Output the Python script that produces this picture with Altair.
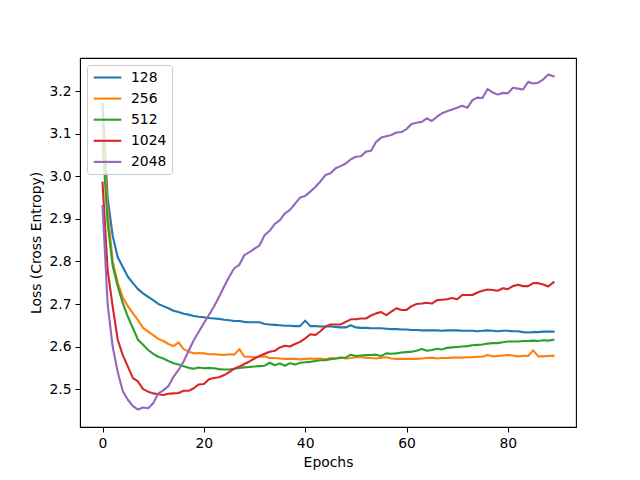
import altair as alt
import pandas as pd

epochs = list(range(90))

loss_128 = [3.17, 2.95, 2.86, 2.81, 2.787, 2.764, 2.749, 2.735, 2.725, 2.717,
            2.709, 2.70, 2.695, 2.69, 2.684, 2.681, 2.677, 2.675, 2.672, 2.670,
            2.669, 2.667, 2.666, 2.665, 2.663, 2.662, 2.660, 2.660, 2.658, 2.657,
            2.657, 2.657, 2.653, 2.652, 2.651, 2.650, 2.649, 2.649, 2.648, 2.648,
            2.661, 2.648, 2.648, 2.647, 2.647, 2.647, 2.646, 2.645, 2.645, 2.650,
            2.645, 2.644, 2.644, 2.643, 2.643, 2.643, 2.642, 2.641, 2.641, 2.640,
            2.640, 2.639, 2.639, 2.638, 2.638, 2.638, 2.638, 2.637, 2.638, 2.638,
            2.638, 2.637, 2.637, 2.637, 2.636, 2.637, 2.638, 2.637, 2.636, 2.637,
            2.637, 2.636, 2.636, 2.634, 2.633, 2.634, 2.634, 2.635, 2.635, 2.635]

loss_256 = [3.12, 2.92, 2.80, 2.75, 2.715, 2.695, 2.678, 2.662, 2.644, 2.635,
            2.627, 2.618, 2.613, 2.606, 2.601, 2.610, 2.594, 2.588, 2.584, 2.585,
            2.584, 2.582, 2.582, 2.581, 2.580, 2.582, 2.581, 2.594, 2.576, 2.576,
            2.575, 2.576, 2.577, 2.573, 2.573, 2.572, 2.571, 2.571, 2.571, 2.570,
            2.571, 2.572, 2.571, 2.572, 2.570, 2.573, 2.572, 2.575, 2.572, 2.573,
            2.575, 2.575, 2.574, 2.573, 2.572, 2.574, 2.575, 2.572, 2.571, 2.571,
            2.571, 2.571, 2.571, 2.572, 2.573, 2.574, 2.572, 2.573, 2.573, 2.574,
            2.574, 2.574, 2.575, 2.575, 2.576, 2.576, 2.580, 2.577, 2.578, 2.579,
            2.580, 2.579, 2.577, 2.578, 2.578, 2.591, 2.577, 2.577, 2.578, 2.578]

loss_512 = [3.08, 2.89, 2.79, 2.741, 2.702, 2.670, 2.643, 2.616, 2.604, 2.592,
            2.583, 2.576, 2.572, 2.566, 2.561, 2.558, 2.554, 2.550, 2.548, 2.551,
            2.549, 2.550, 2.549, 2.547, 2.546, 2.546, 2.548, 2.550, 2.551, 2.552,
            2.553, 2.554, 2.555, 2.562, 2.556, 2.560, 2.555, 2.561, 2.558, 2.562,
            2.563, 2.564, 2.566, 2.568, 2.568, 2.570, 2.572, 2.573, 2.574, 2.581,
            2.578, 2.579, 2.580, 2.580, 2.581, 2.578, 2.584, 2.583, 2.584, 2.586,
            2.587, 2.588, 2.590, 2.594, 2.590, 2.592, 2.595, 2.593, 2.597, 2.598,
            2.599, 2.600, 2.601, 2.603, 2.604, 2.605, 2.607, 2.608, 2.608, 2.610,
            2.612, 2.612, 2.612, 2.613, 2.613, 2.614, 2.613, 2.615, 2.614, 2.616]

loss_1024 = [2.985, 2.78, 2.694, 2.616, 2.580, 2.553, 2.526, 2.518, 2.500, 2.494,
             2.490, 2.488, 2.486, 2.489, 2.490, 2.491, 2.496, 2.496, 2.502, 2.511,
             2.512, 2.523, 2.526, 2.528, 2.533, 2.540, 2.548, 2.553, 2.559, 2.565,
             2.572, 2.578, 2.583, 2.588, 2.590, 2.598, 2.602, 2.600, 2.606, 2.611,
             2.619, 2.629, 2.627, 2.636, 2.647, 2.652, 2.652, 2.652, 2.658, 2.664,
             2.664, 2.666, 2.666, 2.673, 2.678, 2.681, 2.674, 2.682, 2.690, 2.686,
             2.686, 2.695, 2.700, 2.701, 2.703, 2.701, 2.709, 2.710, 2.711, 2.714,
             2.711, 2.721, 2.721, 2.721, 2.727, 2.731, 2.734, 2.733, 2.731, 2.737,
             2.735, 2.742, 2.745, 2.742, 2.742, 2.749, 2.749, 2.746, 2.741, 2.751]

loss_2048 = [2.93, 2.70, 2.60, 2.54, 2.495, 2.475, 2.460, 2.452, 2.457, 2.455,
             2.467, 2.490, 2.497, 2.507, 2.529, 2.545, 2.565, 2.590, 2.615, 2.635,
             2.655, 2.674, 2.694, 2.717, 2.741, 2.764, 2.784, 2.792, 2.815, 2.822,
             2.830, 2.838, 2.862, 2.872, 2.888, 2.897, 2.913, 2.921, 2.936, 2.950,
             2.954, 2.964, 2.975, 2.988, 3.003, 3.007, 3.019, 3.024, 3.030, 3.040,
             3.046, 3.047, 3.058, 3.060, 3.081, 3.091, 3.094, 3.097, 3.103, 3.104,
             3.111, 3.123, 3.126, 3.128, 3.136, 3.130, 3.140, 3.148, 3.153, 3.157,
             3.161, 3.166, 3.161, 3.179, 3.185, 3.184, 3.205, 3.197, 3.192, 3.196,
             3.195, 3.208, 3.206, 3.204, 3.222, 3.218, 3.220, 3.228, 3.239, 3.235]

series_names = ["128", "256", "512", "1024", "2048"]
series_values = [loss_128, loss_256, loss_512, loss_1024, loss_2048]
colors = ["#1f77b4", "#ff7f0e", "#2ca02c", "#d62728", "#9467bd"]

x_ticks = [0, 20, 40, 60, 80]
y_ticks = [2.5, 2.6, 2.7, 2.8, 2.9, 3.0, 3.1, 3.2]

rows = []
for order, (name, vals) in enumerate(zip(series_names, series_values)):
    for e, v in zip(epochs, vals):
        rows.append({"epoch": e, "loss": v, "batch": name, "order": order})
df = pd.DataFrame(rows)

FONT = "DejaVu Sans"

chart = alt.Chart(df).mark_line(
    strokeWidth=2.1, strokeJoin="round", strokeCap="square", clip=True
).encode(
    x=alt.X("epoch:Q",
            scale=alt.Scale(domain=[-4.45, 93.45], nice=False, zero=False),
            axis=alt.Axis(title="Epochs", values=x_ticks, grid=False,
                          tickSize=5, labelPadding=4, titlePadding=6,
                          domainColor="black", tickColor="black",
                          labelColor="black", titleColor="black",
                          labelFontSize=13.9, titleFontSize=13.9,
                          titleFontWeight="normal", labelFont=FONT, titleFont=FONT)),
    y=alt.Y("loss:Q",
            scale=alt.Scale(domain=[2.411, 3.278], nice=False, zero=False),
            axis=alt.Axis(title="Loss (Cross Entropy)", values=y_ticks, format=".1f",
                          grid=False, tickSize=5, labelPadding=4, titlePadding=5,
                          domainColor="black", tickColor="black",
                          labelColor="black", titleColor="black",
                          labelFontSize=13.9, titleFontSize=13.9,
                          titleFontWeight="normal", labelFont=FONT, titleFont=FONT)),
    color=alt.Color("batch:N",
                    scale=alt.Scale(domain=series_names, range=colors),
                    sort=series_names,
                    legend=alt.Legend(
                        title=None, orient="none", legendX=7, legendY=7,
                        symbolType="M-2.3,0H2.3", symbolSize=144,
                        symbolStrokeWidth=2.1, symbolOffset=8,
                        labelOffset=16, rowPadding=6.1, padding=5,
                        labelFontSize=13.9, labelFont=FONT, labelColor="black",
                        strokeColor="#cccccc", fillColor="rgba(255,255,255,0.8)",
                        cornerRadius=3)),
    order=alt.Order("order:Q"),
    detail="batch:N",
).properties(
    width=496, height=369,
    background="white",
    autosize=alt.AutoSizeParams(type="none"),
    padding={"left": 72, "top": 50, "right": 56, "bottom": 45},
).configure_view(
    stroke="black", strokeWidth=1.1
)

chart.save("out.html", embed_options={"renderer": "svg", "actions": False})
